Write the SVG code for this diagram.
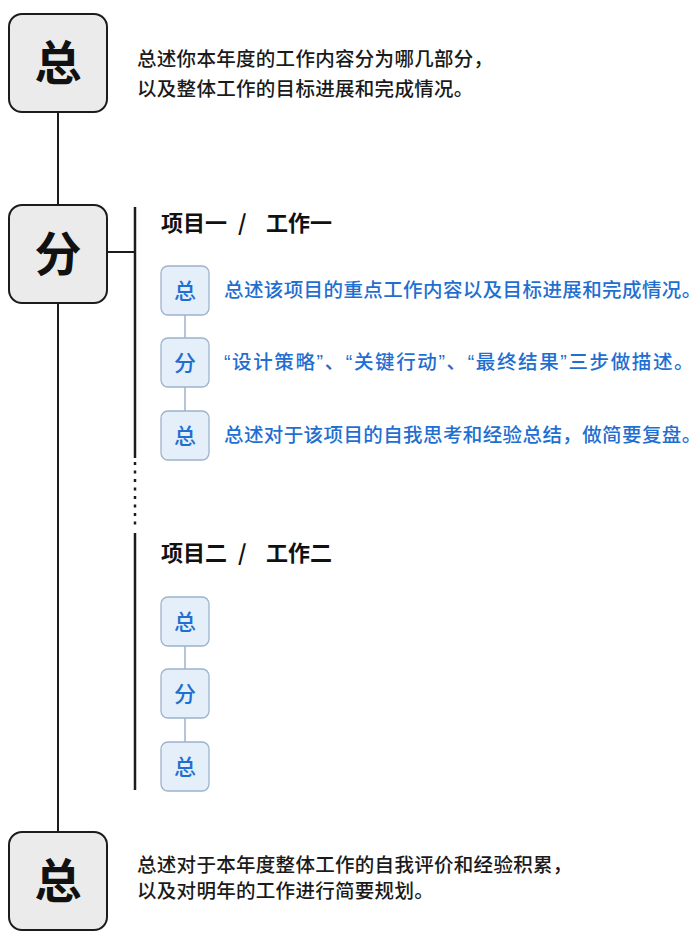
<svg xmlns="http://www.w3.org/2000/svg" width="700" height="952" viewBox="0 0 700 952">
<style>
text{font-family:"Noto Sans CJK SC","Noto Sans",sans-serif;}
.big rect{fill:#ebebeb;stroke:#1c1c1c;stroke-width:2;}
.big text{font-size:47px;font-weight:bold;fill:#111;text-anchor:middle;}
.sm rect{fill:#e5effa;stroke:#9db3cb;stroke-width:1.3;}
.sm text{font-size:22px;font-weight:500;fill:#1f6fd1;text-anchor:middle;}
.desc{font-size:19.5px;font-weight:500;letter-spacing:0.3px;fill:#1a1a1a;}
.blue{font-size:19.5px;font-weight:500;letter-spacing:0.4px;fill:#1f6fd1;}
.q{font-family:"Liberation Sans",sans-serif;}
.head{font-size:22px;font-weight:bold;fill:#111;}
.main{stroke:#1c1c1c;stroke-width:2;fill:none;}
.bar{stroke:#1c1c1c;stroke-width:2.5;fill:none;}
.sub{stroke:#9db3cb;stroke-width:1.5;fill:none;}
</style>
<rect width="700" height="952" fill="#fff"/>
<g id="connectors">
<line class="main" x1="58" y1="112" x2="58" y2="205"/>
<line class="main" x1="58" y1="303" x2="58" y2="832"/>
<line class="main" x1="107" y1="252" x2="135" y2="252"/>
<line class="bar" x1="135" y1="207" x2="135" y2="458"/>
<line class="bar" x1="135" y1="462" x2="135" y2="529" stroke-dasharray="3 5.5"/>
<line class="bar" x1="135" y1="533" x2="135" y2="790"/>
<line class="sub" x1="185" y1="315" x2="185" y2="338"/>
<line class="sub" x1="185" y1="387" x2="185" y2="411"/>
<line class="sub" x1="185" y1="646" x2="185" y2="669"/>
<line class="sub" x1="185" y1="718" x2="185" y2="742"/>
</g>
<g id="node-top" class="big">
<rect x="9" y="14" width="98" height="98" rx="13"/>
<text x="58" y="80">总</text>
</g>
<text class="desc" x="137" y="66">总述你本年度的工作内容分为哪几部分，</text>
<text class="desc" x="137" y="96">以及整体工作的目标进展和完成情况。</text>
<g id="node-mid" class="big">
<rect x="9" y="205" width="98" height="98" rx="13"/>
<text x="58" y="271">分</text>
</g>
<g id="project1">
<text class="head" x="161" y="231">项目一<tspan x="238">/</tspan><tspan x="266">工作一</tspan></text>
</g>
<g id="p1-a" class="sm">
<rect x="161" y="266" width="48" height="49" rx="7"/>
<text x="185" y="298.5">总</text>
</g>
<text class="blue" x="224" y="297">总述该项目的重点工作内容以及目标进展和完成情况。</text>
<g id="p1-b" class="sm">
<rect x="161" y="338" width="48" height="49" rx="7"/>
<text x="185" y="370.5">分</text>
</g>
<text class="blue" x="224" y="369" textLength="470" lengthAdjust="spacing"><tspan class="q">“</tspan>设计策略<tspan class="q">”</tspan>、<tspan class="q">“</tspan>关键行动<tspan class="q">”</tspan>、<tspan class="q">“</tspan>最终结果<tspan class="q">”</tspan>三步做描述。</text>
<g id="p1-c" class="sm">
<rect x="161" y="411" width="48" height="49" rx="7"/>
<text x="185" y="443.5">总</text>
</g>
<text class="blue" x="224" y="442">总述对于该项目的自我思考和经验总结，做简要复盘。</text>
<g id="project2">
<text class="head" x="161" y="561">项目二<tspan x="238">/</tspan><tspan x="266">工作二</tspan></text>
</g>
<g id="p2-a" class="sm">
<rect x="161" y="597" width="48" height="49" rx="7"/>
<text x="185" y="629.5">总</text>
</g>
<g id="p2-b" class="sm">
<rect x="161" y="669" width="48" height="49" rx="7"/>
<text x="185" y="701.5">分</text>
</g>
<g id="p2-c" class="sm">
<rect x="161" y="742" width="48" height="49" rx="7"/>
<text x="185" y="774.5">总</text>
</g>
<g id="node-bottom" class="big">
<rect x="9" y="832" width="98" height="98" rx="13"/>
<text x="58" y="898">总</text>
</g>
<text class="desc" x="137" y="871.5">总述对于本年度整体工作的自我评价和经验积累，</text>
<text class="desc" x="137" y="898">以及对明年的工作进行简要规划。</text>
</svg>
